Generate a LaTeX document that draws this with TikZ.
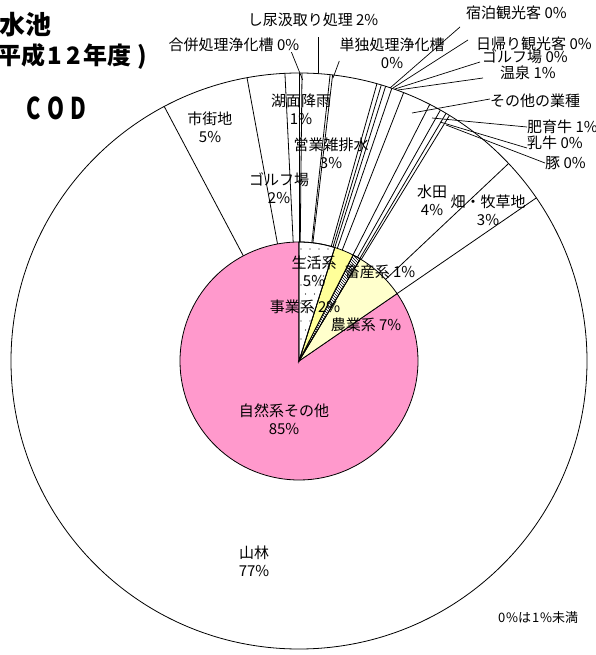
\documentclass[tikz,border=0pt]{standalone}
\usepackage{fontspec}
\setmainfont{Noto Sans CJK JP}
\usetikzlibrary{patterns}

\definecolor{natpink}{RGB}{255,153,204}
\definecolor{bizyellow}{RGB}{255,255,153}
\definecolor{agriyellow}{RGB}{255,255,204}

\tikzset{
  wedge/.style={draw, line width=0.8pt},
  leader/.style={line width=0.7pt},
  lbl/.style={inner sep=0pt, align=center, font=\fontsize{15}{18}\selectfont}
}

\begin{document}
\begin{tikzpicture}[x=1pt, y=1pt]
  \useasboundingbox (-299,-294) rectangle (297,361);

  % outer ring
  \draw[wedge, fill=white] (0,0) circle (288);
  \foreach \a in {90,89.4,83.8,83.3,74.3,73.4,72.5,71.2,68.7,63,60.6,59.3,58.5,43.3,34.5,117.9,100.4,92.8}
    \draw[wedge] (0,0) -- (\a:288);

  % inner pie
  \draw[wedge, fill=natpink] (0,0) -- (34.5:119) arc[start angle=34.5, end angle=-270, radius=119] -- cycle;
  \draw[wedge, fill=agriyellow] (0,0) -- (59:119) arc[start angle=59, end angle=34.5, radius=119] -- cycle;
  \draw[wedge, fill=white] (0,0) -- (63:119) arc[start angle=63, end angle=59, radius=119] -- cycle;
  \draw[wedge, pattern=north west lines] (0,0) -- (63:119) arc[start angle=63, end angle=59, radius=119] -- cycle;
  \draw[wedge, fill=bizyellow] (0,0) -- (72.5:119) arc[start angle=72.5, end angle=63, radius=119] -- cycle;
  \draw[wedge, fill=white] (0,0) -- (90:119) arc[start angle=90, end angle=72.5, radius=119] -- cycle;
  \begin{scope}
    \clip (0,0) -- (90:119) arc[start angle=90, end angle=72.5, radius=119] -- cycle;
    \foreach \r in {0,...,13}
      \foreach \c in {0,...,5}
        \fill ({\c*9+mod(\r,2)*4.5+2},{\r*9+4}) circle (0.7);
  \end{scope}
  \draw[wedge] (0,0) -- (90:119) arc[start angle=90, end angle=72.5, radius=119] -- cycle;

  % inner labels
  \node[lbl] (seikatsu) at (15,90) {生活系\\5\%};
  \node[lbl] (jigyo) at (6,54) {事業系 2\%};
  \node[lbl] (chikusan) at (81,89) {畜産系 1\%};
  \node[lbl] (nogyo) at (67,36) {農業系 7\%};
  \node[lbl] (shizen) at (-15,-58) {自然系その他\\85\%};

  % outer labels
  \node[lbl] (shigaichi) at (-89,234) {市街地\\5\%};
  \node[lbl] (golfA) at (-20,173) {ゴルフ場\\2\%};
  \node[lbl] (komen) at (2,252) {湖面降雨\\1\%};
  \node[lbl] (eigyo) at (32,208) {営業雑排水\\3\%};
  \node[lbl] (suiden) at (133,161) {水田\\4\%};
  \node[lbl] (hatake) at (189,151) {畑・牧草地\\3\%};
  \node[lbl] (sanrin) at (-45,-200) {山林\\77\%};

  % labels with leaders
  \node[lbl] (shinyo) at (14,341) {し尿汲取り処理 2\%};
  \node[lbl] (gappei) at (-65,316) {合併処理浄化槽 0\%};
  \node[lbl] (tandoku) at (93,308) {単独処理浄化槽\\0\%};
  \node[lbl, anchor=west] (shukuhaku) at (167,348) {宿泊観光客 0\%};
  \node[lbl, anchor=west] (higaeri) at (177,317) {日帰り観光客 0\%};
  \node[lbl, anchor=west] (golfB) at (183,304) {ゴルフ場 0\%};
  \node[lbl, anchor=west] (onsen) at (201,288) {温泉 1\%};
  \node[lbl, anchor=west] (sonota) at (191,260) {その他の業種};
  \node[lbl, anchor=west] (hiiku) at (228,234) {肥育牛 1\%};
  \node[lbl, anchor=west] (nyugyu) at (228,218) {乳牛 0\%};
  \node[lbl, anchor=west] (buta) at (246,198) {豚 0\%};

  \coordinate (shinyoP) at (19,288);
  \coordinate (gappeiP) at (3.7,281);
  \coordinate (tandokuP) at (34,283);
  \coordinate (shukuhakuP) at (91,273);
  \coordinate (higaeriP) at (94,273);
  \coordinate (golfBP) at (96,272);
  \coordinate (onsenP) at (99,271);
  \coordinate (sonotaP) at (113,248);
  \coordinate (hiikuP) at (133,243);
  \coordinate (nyugyuP) at (141,239);
  \coordinate (butaP) at (147,236);

  \draw[leader] ([xshift=5pt, yshift=-10pt]shinyo.south) -- (shinyoP);
  \draw[leader] ([xshift=-8pt]gappei.south east) -- (gappeiP);
  \draw[leader] ([yshift=-8pt]tandoku.west) -- (tandokuP);
  \draw[leader] ([shift={(-6pt,-14pt)}]shukuhaku.west) -- (shukuhakuP);
  \draw[leader] ([shift={(-8pt,4pt)}]higaeri.west) -- (higaeriP);
  \draw[leader] ([shift={(-2pt,-5pt)}]golfB.west) -- (golfBP);
  \draw[leader] ([shift={(-17pt,-5pt)}]onsen.west) -- (onsenP);
  \draw[leader] ([yshift=2pt]sonota.west) -- (sonotaP);
  \draw[leader] (hiiku.west) -- (hiikuP);
  \draw[leader] ([yshift=-5pt]nyugyu.west) -- (nyugyuP);
  \draw[leader] (buta.west) -- (butaP);

  % title
  \node[inner sep=0pt, font=\fontsize{26}{30}\selectfont\bfseries] (title) at (-273,336) {水池};
  \node[inner sep=0pt, anchor=east, font=\fontsize{24}{28}\selectfont\bfseries] (nendo) at (-152,304)
    {平成\makebox[19pt]{1}\makebox[19pt]{2}年度\hspace{6pt})};
  \node[inner sep=0pt, font=\fontsize{30}{32}\selectfont\bfseries] (cod) at (-243,253)
    {\scalebox{0.72}[1]{\makebox[31pt]{C}\makebox[31pt]{O}\makebox[31pt]{D}}};
  \node[inner sep=0pt, anchor=west, font=\fontsize{13}{15}\selectfont] (note) at (198,-257)
    {\makebox[9pt]{0}\%は\makebox[9pt]{1}\%未満};
\end{tikzpicture}
\end{document}
